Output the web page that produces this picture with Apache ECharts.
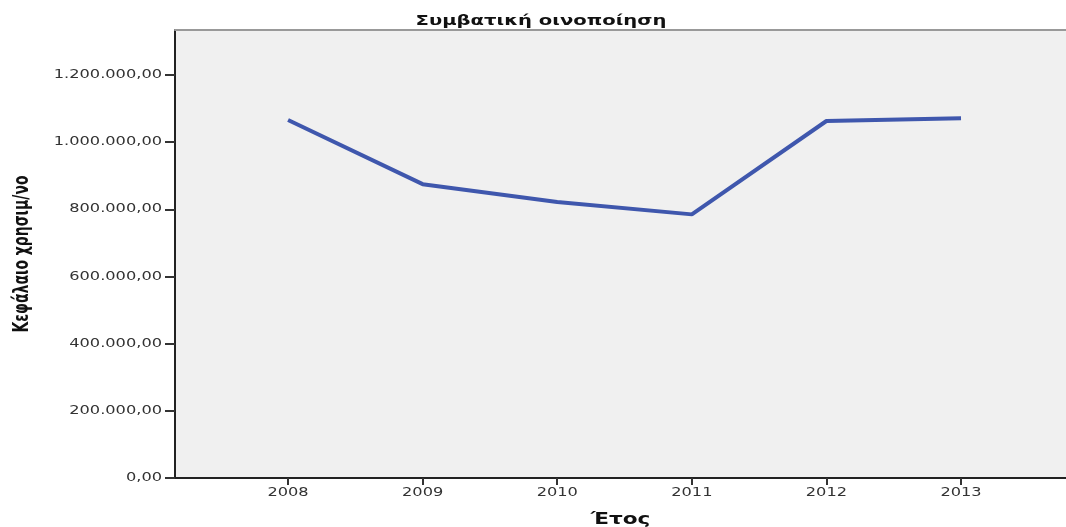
<!DOCTYPE html>
<html>
<head>
<meta charset="utf-8">
<script src="https://cdn.jsdelivr.net/npm/echarts@6/dist/echarts.min.js"></script>
<style>
html,body{margin:0;padding:0;background:#fff;}
#c{width:1066px;height:527px;}
</style>
</head>
<body>
<div id="c"></div>
<script>
const years = [2008, 2009, 2010, 2011, 2012, 2013];
const capital = [1066000, 875000, 822000, 785000, 1063000, 1071000];
const yTicks = [0, 200000, 400000, 600000, 800000, 1000000, 1200000];
const titleText = 'Συμβατική οινοποίηση';
const xName = 'Έτος';
const yName = 'Κεφάλαιο χρησιμ/νο';

// The reference picture is horizontally stretched: widen every glyph on screen around its anchor.
const STRETCH = 1.35;
const origFill = CanvasRenderingContext2D.prototype.fillText;
CanvasRenderingContext2D.prototype.fillText = function (t, x, y, m) {
  const T = this.getTransform();
  const p = T.transformPoint(new DOMPoint(x, y));
  this.save();
  const S = new DOMMatrix().translate(p.x, p.y).scale(STRETCH, 1).translate(-p.x, -p.y).multiply(T);
  this.setTransform(S);
  if (m === undefined) origFill.call(this, t, x, y); else origFill.call(this, t, x, y, m);
  this.restore();
};

function fmt(v) {
  const s = Math.round(v).toString().replace(/\B(?=(\d{3})+(?!\d))/g, '.');
  return s + ',00';
}

const chart = echarts.init(document.getElementById('c'));
chart.setOption({
  animation: false,
  backgroundColor: '#ffffff',
  title: {
    text: titleText,
    left: 536, top: 9, textAlign: 'center',
    textStyle: {fontFamily: 'DejaVu Sans', fontSize: 14.5, fontWeight: 'bold', color: '#111'}
  },
  grid: {left: 175, right: 0, top: 30, bottom: 49, show: true, backgroundColor: '#f0f0f0', borderWidth: 0,
         containLabel: false, outerBoundsMode: 'none'},
  xAxis: [{
    type: 'value',
    min: 2007.16, max: 2013.78,
    position: 'bottom',
    name: xName, nameLocation: 'middle', nameGap: 34,
    nameTextStyle: {fontFamily: 'DejaVu Sans', fontSize: 16, fontWeight: 'bold', color: '#111'},
    axisLine: {show: true, lineStyle: {color: '#222', width: 2}},
    axisTick: {show: true, inside: false, length: 7, lineStyle: {color: '#333', width: 2}, customValues: years},
    axisLabel: {show: true, customValues: years, formatter: v => String(v), fontFamily: 'DejaVu Sans', fontSize: 12, color: '#333', margin: 9},
    splitLine: {show: false}
  }, {
    type: 'value',
    min: 2007.16, max: 2013.78,
    position: 'top',
    axisLine: {show: true, onZero: false, lineStyle: {color: '#999', width: 2}},
    axisTick: {show: false}, axisLabel: {show: false}, splitLine: {show: false}
  }],
  yAxis: {
    type: 'value',
    min: 0, max: 1334000,
    name: yName, nameLocation: 'middle', nameGap: 144, nameRotate: 90,
    nameTextStyle: {fontFamily: 'DejaVu Sans Condensed, DejaVu Sans', fontSize: 15.5, fontWeight: 'bold', color: '#111'},
    axisLine: {show: true, lineStyle: {color: '#222', width: 2}},
    axisTick: {show: true, length: 10, lineStyle: {color: '#333', width: 2}, customValues: yTicks},
    axisLabel: {customValues: yTicks, formatter: v => fmt(v), fontFamily: 'DejaVu Sans', fontSize: 12, color: '#333', margin: 13},
    splitLine: {show: false}
  },
  series: [{
    type: 'line',
    xAxisIndex: 0,
    data: years.map((y, i) => [y, capital[i]]),
    showSymbol: false,
    lineStyle: {color: '#3f57ad', width: 4},
    itemStyle: {color: '#3f57ad'}
  }]
});
</script>
</body>
</html>
